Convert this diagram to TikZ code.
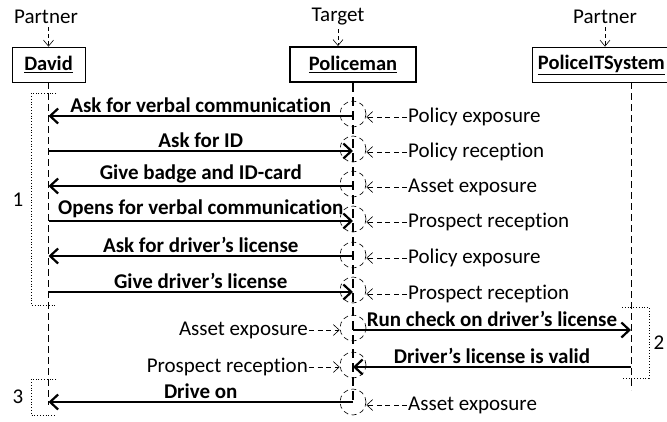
\documentclass[tikz,border=0pt]{standalone}
\usepackage{fontspec}
\setmainfont{Carlito}[Ligatures=NoCommon]
\usetikzlibrary{arrows.meta,positioning}
\tikzset{
  actor/.style={
      draw,
      thick,
      rectangle,
      minimum height=35pt,
      inner sep=2pt,
      font=\fontsize{20.5}{22}\selectfont\bfseries
  },
  role/.style={font=\fontsize{21}{23}\selectfont},
  rolearrow/.style={semithick,dash pattern=on 4pt off 3pt,-{Straight Barb[length=6pt,width=10pt]}},
  lifeline/.style={semithick,dash pattern=on 7pt off 4pt},
  focus/.style={draw,semithick,dash pattern=on 5pt off 3.5pt,circle,minimum size=26pt,inner sep=0pt},
  msg/.style={line width=2.4pt,-{Straight Barb[length=8pt,width=15pt,line width=2.2pt]}},
  msglabel/.style={above=1pt,font=\fontsize{21}{23}\selectfont\bfseries,inner sep=1pt},
  note/.style={font=\fontsize{21}{23}\selectfont,inner sep=1pt},
  notearrow/.style={semithick,dash pattern=on 5pt off 3.5pt,-{Straight Barb[length=6pt,width=11pt]}},
  group/.style={dotted,thick}
}

\begin{document}
\begin{tikzpicture}[x=1pt,y=-1pt]
    \useasboundingbox (0,0) rectangle (667,421);

    \node[actor,minimum width=73pt] (david) at (48.5,64.5) {\underline{David}};
    \node[actor,minimum width=126pt,line width=2pt] (police) at (353,64.5) {\underline{Policeman}};
    \node[actor,minimum width=138pt,anchor=west] (its) at (532,64.5) {\underline{PoliceITSystem}};
    \coordinate (itsline) at (631,82);

    \node[role] (r1) at (46,17) {Partner};
    \node[role] (r2) at (338,17) {Target};
    \node[role] (r3) at (605,17) {Partner};
    \draw[rolearrow] (r1.south -| david) -- (david.north);
    \draw[rolearrow] (r2.south) -- (r2.south |- police.north);
    \draw[rolearrow] (r3.south) -- (r3.south |- its.north);

    \draw[lifeline] (david.south) -- ++(0,323);
    \draw[lifeline,line width=2.5pt,dash pattern=on 9pt off 5pt] (police.south) -- ++(0,320);
    \draw[lifeline] (itsline) -- ++(0,308);

    \node[focus] (c1) at (353,114) {};
    \node[focus] (c2) at (353,149) {};
    \node[focus] (c3) at (353,184) {};
    \node[focus] (c4) at (353,219) {};
    \node[focus] (c5) at (353,255) {};
    \node[focus] (c6) at (353,290) {};
    \node[focus] (c7) at (353,328) {};
    \node[focus] (c8) at (353,365) {};
    \node[focus] (c9) at (353,402) {};

    \draw[msg] (353,116) -- (david |- 0,116) node[msglabel,midway] {Ask for verbal communication};
    \draw[msg] (david |- 0,151) -- (353,151) node[msglabel,midway] {Ask for ID};
    \draw[msg] (353,186) -- (david |- 0,186) node[msglabel,midway] {Give badge and ID-card};
    \draw[msg] (david |- 0,221) -- (353,221) node[msglabel,midway] {Opens for verbal communication};
    \draw[msg] (353,256) -- (david |- 0,256) node[msglabel,midway] {Ask for driver's license};
    \draw[msg] (david |- 0,292) -- (353,292) node[msglabel,midway] {Give driver's license};
    \draw[msg] (353,330) -- (itsline |- 0,330) node[msglabel,midway] {Run check on driver's license};
    \draw[msg] (itsline |- 0,367) -- (353,367) node[msglabel,midway] {Driver's license is valid};
    \draw[msg] (353,402) -- (david |- 0,402) node[msglabel,midway] {Drive on};

    \node[note,anchor=west] (n1) at (407,117) {Policy exposure};
    \node[note,anchor=west] (n2) at (407,152) {Policy reception};
    \node[note,anchor=west] (n3) at (407,187) {Asset exposure};
    \node[note,anchor=west] (n4) at (407,222) {Prospect reception};
    \node[note,anchor=west] (n5) at (407,258) {Policy exposure};
    \node[note,anchor=west] (n6) at (407,294) {Prospect reception};
    \node[note,anchor=east] (n7) at (309,330) {Asset exposure};
    \node[note,anchor=east] (n8) at (309,367) {Prospect reception};
    \node[note,anchor=west] (n9) at (407,405) {Asset exposure};
    \draw[notearrow] (n1.west) -- (c1.east |- n1.west);
    \draw[notearrow] (n2.west) -- (c2.east |- n2.west);
    \draw[notearrow] (n3.west) -- (c3.east |- n3.west);
    \draw[notearrow] (n4.west) -- (c4.east |- n4.west);
    \draw[notearrow] (n5.west) -- (c5.east |- n5.west);
    \draw[notearrow] (n6.west) -- (c6.east |- n6.west);
    \draw[notearrow] (n7.east) -- (c7.west |- n7.east);
    \draw[notearrow] (n8.east) -- (c8.west |- n8.east);
    \draw[notearrow] (n9.west) -- (c9.east |- n9.west);

    \draw[group] (56,93) -| (31,305) -- (56,305);
    \draw[group] (56,379) -| (31,415) -- (56,415);
    \draw[group] (622,307) -| (649,378) -- (622,378);
    \node[note] (g1) at (18,200) {1};
    \node[note] (g2) at (659,343) {2};
    \node[note] (g3) at (18,397) {3};
\end{tikzpicture}
\end{document}
